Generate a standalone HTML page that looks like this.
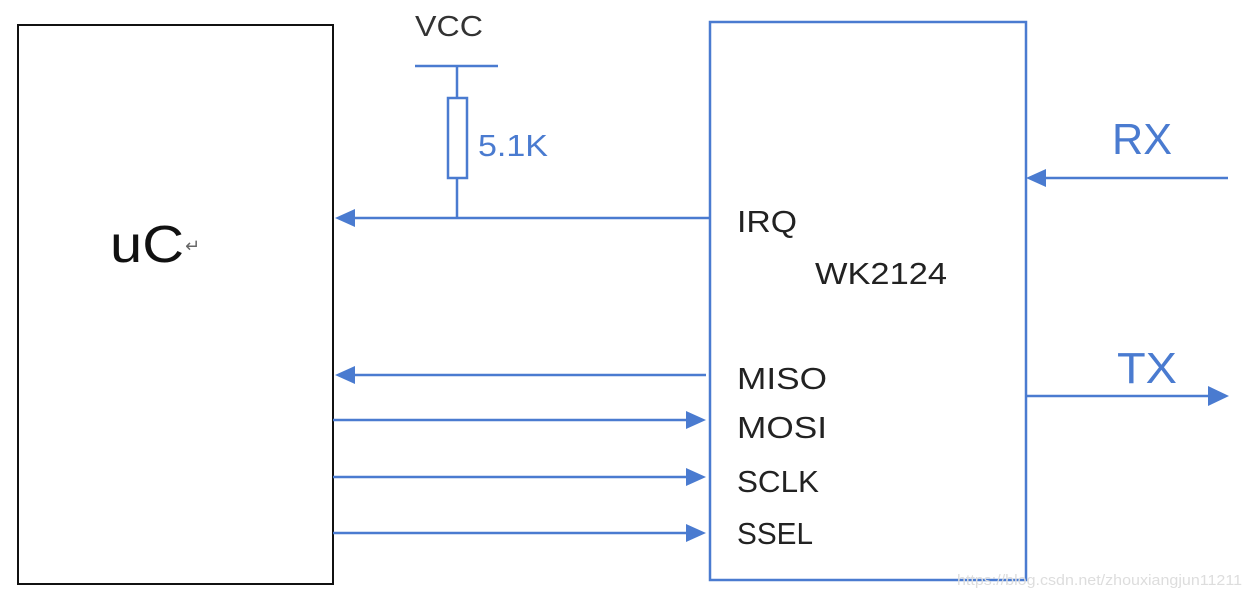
<!DOCTYPE html>
<html><head><meta charset="utf-8"><style>
html,body{margin:0;padding:0;background:#fff;}
svg{display:block;}
text{font-family:"Liberation Sans","DejaVu Sans",sans-serif;}
</style></head><body>
<svg width="1250" height="597" viewBox="0 0 1250 597" xmlns="http://www.w3.org/2000/svg">
<rect width="1250" height="597" fill="#fff"/>
<rect x="18" y="25" width="315" height="559" fill="none" stroke="#111" stroke-width="2"/>
<text x="110" y="262" font-size="52" fill="#111" textLength="74" lengthAdjust="spacingAndGlyphs">uC</text>
<text x="185" y="252" font-size="18" fill="#666">↵</text>
<rect x="710" y="22" width="316" height="558" fill="none" stroke="#4a7bd0" stroke-width="2.5"/>
<text x="737" y="232" font-size="31" fill="#222" textLength="60" lengthAdjust="spacingAndGlyphs">IRQ</text>
<text x="815" y="284" font-size="31" fill="#222" textLength="132" lengthAdjust="spacingAndGlyphs">WK2124</text>
<text x="737" y="389" font-size="31" fill="#222" textLength="90" lengthAdjust="spacingAndGlyphs">MISO</text>
<text x="737" y="438" font-size="31" fill="#222" textLength="90" lengthAdjust="spacingAndGlyphs">MOSI</text>
<text x="737" y="492" font-size="31" fill="#222" textLength="82" lengthAdjust="spacingAndGlyphs">SCLK</text>
<text x="737" y="544" font-size="31" fill="#222" textLength="76" lengthAdjust="spacingAndGlyphs">SSEL</text>
<text x="415" y="36" font-size="29" fill="#333" textLength="68" lengthAdjust="spacingAndGlyphs">VCC</text>
<g stroke="#4a7bd0" stroke-width="2.5" fill="none">
<line x1="415" y1="66" x2="498" y2="66"/>
<line x1="457" y1="66" x2="457" y2="98"/>
<rect x="448" y="98" width="19" height="80"/>
<line x1="457" y1="178" x2="457" y2="218"/>
<line x1="350" y1="218" x2="710" y2="218"/>
<line x1="350" y1="375" x2="706" y2="375"/>
<line x1="333" y1="420" x2="690" y2="420"/>
<line x1="333" y1="477" x2="690" y2="477"/>
<line x1="333" y1="533" x2="690" y2="533"/>
<line x1="1040" y1="178" x2="1228" y2="178"/>
<line x1="1026" y1="396" x2="1212" y2="396"/>
</g>
<text x="478" y="156" font-size="31" fill="#4a7bd0" textLength="70" lengthAdjust="spacingAndGlyphs">5.1K</text>
<g fill="#4a7bd0">
<polygon points="335,218 355,209 355,227"/>
<polygon points="335,375 355,366 355,384"/>
<polygon points="706,420 686,411 686,429"/>
<polygon points="706,477 686,468 686,486"/>
<polygon points="706,533 686,524 686,542"/>
<polygon points="1026,178 1046,169 1046,187"/>
<polygon points="1229,396 1208,386 1208,406"/>
</g>
<text x="1112" y="154" font-size="44" fill="#4a7bd0" textLength="60" lengthAdjust="spacingAndGlyphs">RX</text>
<text x="1117" y="383" font-size="44" fill="#4a7bd0" textLength="60" lengthAdjust="spacingAndGlyphs">TX</text>
<text x="957" y="585" font-size="15" fill="#ddd" textLength="285" lengthAdjust="spacingAndGlyphs">https://blog.csdn.net/zhouxiangjun11211</text>
</svg>
</body></html>
